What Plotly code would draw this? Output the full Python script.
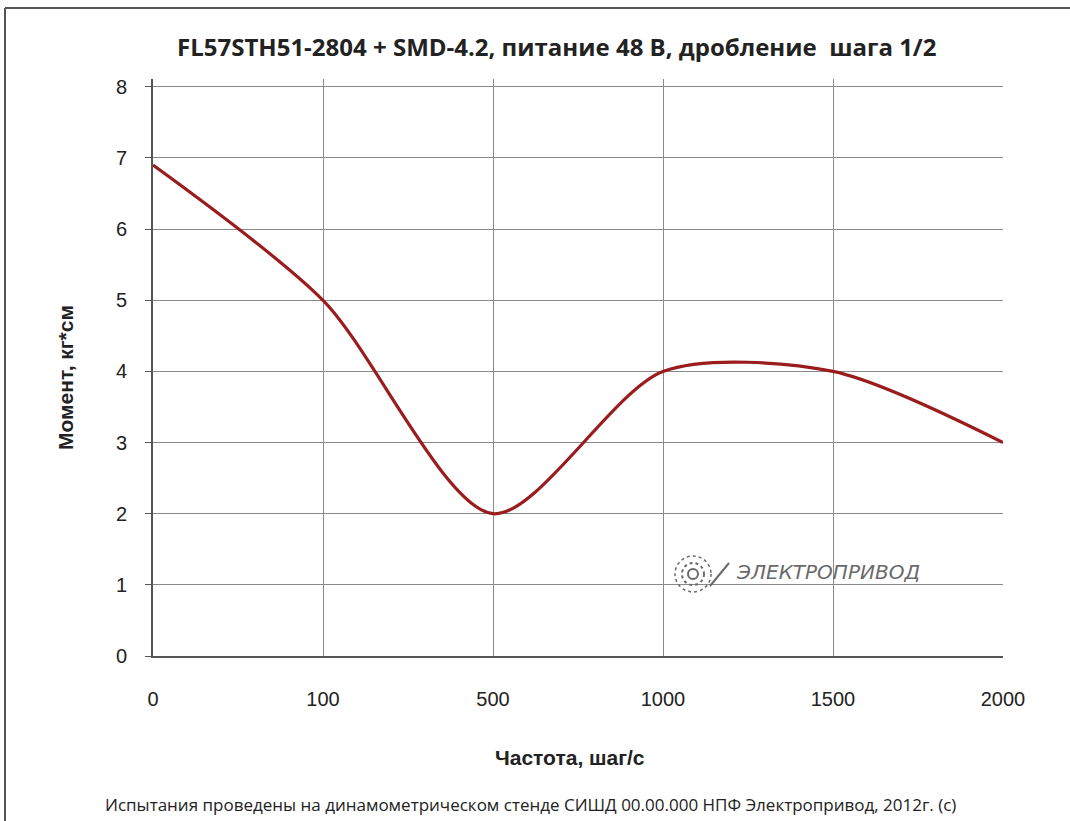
import plotly.graph_objects as go

categories = ["0", "100", "500", "1000", "1500", "2000"]
torque = [6.9, 5.0, 2.0, 4.0, 4.0, 3.0]
y_ticks = [0, 1, 2, 3, 4, 5, 6, 7, 8]

title_text = "FL57STH51-2804 + SMD-4.2, питание 48 В, дробление  шага 1/2"
x_title = "Частота, шаг/с"
y_title = "Момент, кг*см"
footer = "Испытания проведены на динамометрическом стенде СИШД 00.00.000 НПФ Электропривод, 2012г. (с)"
logo = "ЭЛЕКТРОПРИВОД"

W, H = 1070, 821
L, R, T, B = 153, 67, 79, 165
pw, ph = W - L - R, H - T - B

def px(x):
    return (x - L) / pw

def py(y):
    return (H - B - y) / ph

fig = go.Figure()
fig.add_trace(go.Scatter(
    x=categories, y=torque, mode="lines",
    line=dict(color="#9a1c1c", width=3.2, shape="spline", smoothing=0.8),
    hoverinfo="x+y", showlegend=False,
))

logo_color = "#6a6a6a"
shapes = [
    dict(type="line", xref="paper", yref="paper", x0=px(5), y0=py(8), x1=px(W + 5), y1=py(8),
         line=dict(color="#555", width=2)),
    dict(type="line", xref="paper", yref="paper", x0=px(5), y0=py(8), x1=px(5), y1=py(H + 5),
         line=dict(color="#555", width=2)),
]
cx, cy = 693, 574
for r, dash, w in [(5, "solid", 2), (11, "dot", 2), (18, "dot", 1.5)]:
    shapes.append(dict(type="circle", xref="paper", yref="paper",
                       x0=px(cx - r), x1=px(cx + r), y0=py(cy + r), y1=py(cy - r),
                       line=dict(color=logo_color, width=w, dash=dash)))
shapes.append(dict(type="line", xref="paper", yref="paper", x0=px(710), y0=py(586), x1=px(729), y1=py(563),
                   line=dict(color=logo_color, width=2)))

fig.update_layout(
    width=W, height=H,
    margin=dict(l=L, r=R, t=T, b=B),
    paper_bgcolor="white", plot_bgcolor="white",
    font=dict(family="Liberation Sans, Arial", color="#222"),
    xaxis=dict(
        type="category", range=[0, 5], showgrid=True, gridcolor="#8a8a8a", gridwidth=1,
        showline=True, linecolor="#555", linewidth=2, ticks="", zeroline=False,
        tickfont=dict(size=20, color="#222"), ticklabelstandoff=24,
    ),
    yaxis=dict(
        range=[0, 8.11], tickvals=y_ticks, showgrid=True, gridcolor="#8a8a8a", gridwidth=1,
        showline=True, linecolor="#555", linewidth=2, ticks="outside", ticklen=6,
        tickcolor="#555", zeroline=False, tickfont=dict(size=20, color="#222"),
        ticklabelstandoff=14,
    ),
    shapes=shapes,
    annotations=[
        dict(text="<b>" + title_text + "</b>", xref="paper", yref="paper", x=px(557), y=py(46),
             xanchor="center", yanchor="middle", showarrow=False,
             font=dict(family="Open Sans", size=24, color="#222")),
        dict(text="<b>" + x_title + "</b>", xref="paper", yref="paper", x=px(570), y=py(757),
             xanchor="center", yanchor="middle", showarrow=False,
             font=dict(family="Liberation Sans, Arial", size=21, color="#222")),
        dict(text="<b>" + y_title + "</b>", xref="paper", yref="paper", x=px(65), y=py(378),
             xanchor="center", yanchor="middle", showarrow=False, textangle=-90,
             font=dict(family="Liberation Sans, Arial", size=21, color="#222")),
        dict(text=footer, xref="paper", yref="paper", x=px(530), y=py(804),
             xanchor="center", yanchor="middle", showarrow=False,
             font=dict(family="Open Sans", size=17, color="#222")),
        dict(text="<i>" + logo + "</i>", xref="paper", yref="paper", x=px(734), y=py(572),
             xanchor="left", yanchor="middle", showarrow=False,
             font=dict(family="DejaVu Sans", size=20, color=logo_color)),
    ],
)

fig.write_html("out.html", config={"displayModeBar": False},
               post_script="document.body.style.margin='0';document.body.style.overflow='hidden';")
